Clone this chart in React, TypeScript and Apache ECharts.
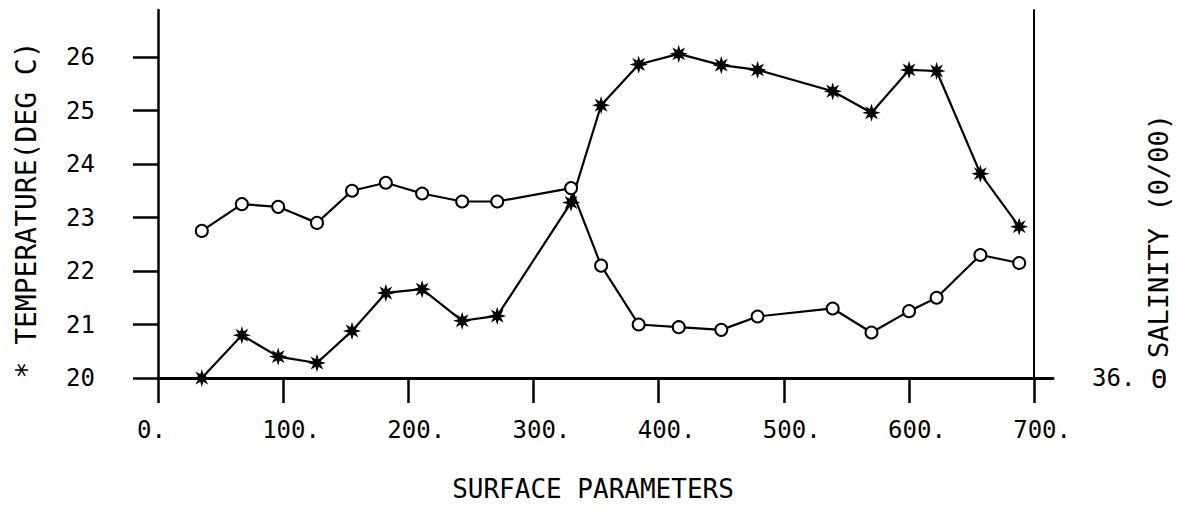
import React, { useEffect, useRef } from "react";
import * as echarts from "echarts";

const distance = [35, 67, 96, 127, 155, 182, 211, 243, 271, 330, 354, 384, 416, 450, 479, 539, 570, 600, 622, 657, 688];
const temperature = [20.0, 20.8, 20.4, 20.28, 20.88, 21.59, 21.66, 21.07, 21.16, 23.28, 25.1, 25.86, 26.06, 25.85, 25.76, 25.36, 24.96, 25.76, 25.74, 23.82, 22.83];
const salinity = [36.55, 36.65, 36.64, 36.58, 36.7, 36.73, 36.69, 36.66, 36.66, 36.71, 36.42, 36.2, 36.19, 36.18, 36.23, 36.26, 36.17, 36.25, 36.3, 36.46, 36.43];
const xTicks = [0, 100, 200, 300, 400, 500, 600, 700];
const tempTicks = [20, 21, 22, 23, 24, 25, 26];
const salinityTicks = [36];

const MONO = "DejaVu Sans Mono";
const STAR =
  "path://M100 0 L41.6 17.2 L70.7 70.7 L17.2 41.6 L0 100 L-17.2 41.6 L-70.7 70.7 L-41.6 17.2 L-100 0 L-41.6 -17.2 L-70.7 -70.7 L-17.2 -41.6 L0 -100 L17.2 -41.6 L70.7 -70.7 L41.6 -17.2 Z";

export default function App() {
  const ref = useRef<HTMLDivElement>(null);
  useEffect(() => {
    if (!ref.current) return;
    const chart = echarts.init(ref.current, null, { renderer: "svg" });
    const tempData = distance.map((d, i) => [d, temperature[i]]);
    const salData = distance.map((d, i) => [d, salinity[i]]);
    chart.setOption({
      animation: false,
      backgroundColor: "#fff",
      grid: { left: 158, right: 126, top: 10, bottom: 135, containLabel: false },
      xAxis: {
        type: "value",
        min: 0,
        max: 715,
        axisLine: { show: true, onZero: false, lineStyle: { color: "#000", width: 3 } },
        axisTick: { show: true, customValues: xTicks, length: 25, inside: false, lineStyle: { color: "#000", width: 2.5 } },
        axisLabel: {
          customValues: xTicks,
          formatter: (v: number) => `${v}.`,
          fontFamily: MONO,
          fontSize: 24,
          color: "#000",
          margin: 40,
          align: "left",
          padding: [0, 0, 0, -21],
        },
        splitLine: { show: false },
      },
      yAxis: [
        {
          type: "value",
          position: "left",
          min: 20,
          max: 26.88,
          axisLine: { show: true, lineStyle: { color: "#000", width: 2.5 } },
          axisTick: { show: true, customValues: tempTicks, length: 25, inside: false, lineStyle: { color: "#000", width: 2.5 } },
          axisLabel: {
            customValues: tempTicks,
            formatter: (v: number) => `${v}`,
            fontFamily: MONO,
            fontSize: 24,
            color: "#000",
            margin: 63,
            padding: [0, 0, 10, 0],
          },
          splitLine: { show: false },
        },
        {
          type: "value",
          position: "right",
          offset: -19,
          min: 36,
          max: 37.376,
          axisLine: { show: true, lineStyle: { color: "#000", width: 2 } },
          axisTick: { show: false },
          axisLabel: {
            customValues: salinityTicks,
            formatter: (v: number) => `${Math.round(v)}.`,
            fontFamily: MONO,
            fontSize: 24,
            color: "#000",
            margin: 58,
            padding: [0, 0, 6, 0],
          },
          splitLine: { show: false },
        },
      ],
      graphic: [
        {
          type: "text",
          x: 26,
          y: 210,
          rotation: Math.PI / 2,
          style: { text: "* TEMPERATURE(DEG C)", font: `28px "${MONO}"`, fill: "#000", align: "center", verticalAlign: "middle" },
        },
        {
          type: "text",
          x: 1158,
          y: 236,
          rotation: Math.PI / 2,
          style: { text: "SALINITY (0/00)", font: `27px "${MONO}"`, fill: "#000", align: "center", verticalAlign: "middle" },
        },
        {
          type: "text",
          x: 1159,
          y: 378,
          style: { text: "Θ", font: `27px "${MONO}"`, fill: "#000", align: "center", verticalAlign: "middle" },
        },
        {
          type: "text",
          x: 593,
          y: 489,
          style: { text: "SURFACE PARAMETERS", font: `26px "${MONO}"`, fill: "#000", align: "center", verticalAlign: "middle" },
        },
      ],
      series: [
        {
          name: "Temperature",
          type: "line",
          yAxisIndex: 0,
          data: tempData,
          symbol: STAR,
          symbolSize: 14,
          showAllSymbol: true,
          lineStyle: { color: "#000", width: 2.2 },
          itemStyle: { color: "#000", borderColor: "#000", borderWidth: 1.2 },
        },
        {
          name: "Salinity",
          type: "line",
          yAxisIndex: 1,
          data: salData,
          symbol: "emptyCircle",
          symbolSize: 12,
          showAllSymbol: true,
          lineStyle: { color: "#000", width: 2.2 },
          itemStyle: { color: "#000", borderColor: "#000", borderWidth: 2.5 },
        },
      ],
    });
    return () => chart.dispose();
  }, []);
  return <div ref={ref} style={{ position: "fixed", left: 0, top: 0, width: 1179, height: 513 }} />;
}
